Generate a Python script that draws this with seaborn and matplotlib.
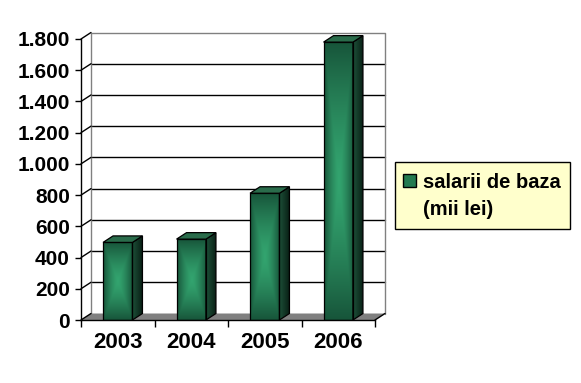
import numpy as np
import pandas as pd
import matplotlib
matplotlib.use("Agg")
import matplotlib.pyplot as plt
import seaborn as sns
from matplotlib.patches import Polygon, Rectangle
from matplotlib.ticker import FuncFormatter
from matplotlib.colors import to_rgb

# Data
years = ["2003", "2004", "2005", "2006"]
salaries = [497, 518, 812, 1780]
y_ticks = [0, 200, 400, 600, 800, 1000, 1200, 1400, 1600, 1800]
series_label = ["salarii de baza", "(mii lei)"]

sns.set_style("white")
plt.rcParams["font.family"] = ["Liberation Sans", "DejaVu Sans"]
plt.rcParams["font.weight"] = "bold"
plt.rcParams["text.color"] = "black"
plt.rcParams["xtick.color"] = "black"
plt.rcParams["ytick.color"] = "black"

W, H = 581, 383
fig = plt.figure(figsize=(W / 100, H / 100), dpi=100)
ax_w, ax_h = 294, 281
ax = fig.add_axes([81 / W, 63 / H, ax_w / W, ax_h / H])

df = pd.DataFrame({"an": years, "salarii": salaries})
sns.barplot(data=df, x="an", y="salarii", width=0.4, color="#2a8a5e",
            ax=ax, zorder=3, saturation=1)

xl0, xl1 = -0.5, 3.5
ymax = y_ticks[-1]
# 3D depth offset (in data units) for the fake perspective
dx = 10 / (ax_w / (xl1 - xl0))
dy = 6.5 / (ax_h / ymax)

# floor
ax.add_patch(Polygon([(xl0, 0), (xl1, 0), (xl1 + dx, dy), (xl0 + dx, dy)],
                     closed=True, facecolor="#808080", edgecolor="none",
                     zorder=1.5, clip_on=False))
# back wall gridlines and border
for v in y_ticks[1:-1]:
    ax.plot([xl0 + dx, xl1 + dx], [v + dy, v + dy], color="black", lw=1,
            zorder=1, clip_on=False)
ax.plot([xl0 + dx, xl0 + dx, xl1 + dx, xl1 + dx],
        [dy, ymax + dy, ymax + dy, dy], color="#808080", lw=1,
        zorder=1, clip_on=False)
# side wall diagonals
for v in y_ticks:
    ax.plot([xl0, xl0 + dx], [v, v + dy], color="black", lw=1,
            zorder=2, clip_on=False)
ax.plot([xl1, xl1 + dx], [0, dy], color="black", lw=1, zorder=2, clip_on=False)

light = np.array(to_rgb("#33a46f"))
dark = np.array(to_rgb("#17553a"))


def front_gradient(nx=60, ny=200):
    u = np.linspace(-1, 1, nx)
    v = np.linspace(-1, 1, ny)
    U, V = np.meshgrid(u, v)
    t = np.maximum(np.abs(U), np.abs(V)) ** 1.4
    return light * (1 - t)[..., None] + dark * t[..., None]


side_a = np.array(to_rgb("#1d5139"))
side_b = np.array(to_rgb("#0a2217"))
s = np.linspace(0, 1, 30)
side_img = (side_a * (1 - s)[:, None] + side_b * s[:, None])[None, :, :]

bars = [p for p in ax.patches if isinstance(p, Rectangle)]
for bar in bars:
    x0 = bar.get_x()
    x1 = x0 + bar.get_width()
    h = bar.get_height()
    bar.set_facecolor("none")
    bar.set_edgecolor("black")
    bar.set_linewidth(0.9)
    bar.set_zorder(5)
    im = ax.imshow(front_gradient(), extent=(x0, x1, 0, h), origin="lower",
                   aspect="auto", interpolation="bilinear", zorder=4)
    im.set_clip_path(bar)
    # side face
    side = Polygon([(x1, 0), (x1 + dx, dy), (x1 + dx, h + dy), (x1, h)],
                   closed=True, facecolor="none", edgecolor="black", lw=0.9,
                   zorder=5, clip_on=False)
    ax.add_patch(side)
    ims = ax.imshow(side_img, extent=(x1, x1 + dx, 0, h + dy), origin="lower",
                    aspect="auto", interpolation="bilinear", zorder=4)
    ims.set_clip_path(side)
    ims.set_clip_box(fig.bbox)
    # top face
    ax.add_patch(Polygon([(x0, h), (x1, h), (x1 + dx, h + dy), (x0 + dx, h + dy)],
                         closed=True, facecolor="#2a6c4b", edgecolor="black",
                         lw=0.9, zorder=5, clip_on=False))

ax.set_xlim(xl0, xl1)
ax.set_ylim(0, ymax)
ax.set_yticks(y_ticks)
ax.yaxis.set_major_formatter(FuncFormatter(lambda v, _: f"{int(v):,}".replace(",", ".")))
ax.set_xticks(range(len(years)))
ax.set_xticklabels(years)
ax.set_xticks(np.arange(xl0, xl1 + 0.01, 1), minor=True)
ax.tick_params(axis="x", which="major", length=0, pad=9, labelsize=16,
               labelcolor="black")
ax.tick_params(axis="x", which="minor", length=5, width=1, color="black",
               direction="out", bottom=True)
ax.tick_params(axis="y", length=4, width=1, color="black", direction="out",
               pad=4, labelsize=15, left=True, labelcolor="black")
for lab in ax.get_xticklabels() + ax.get_yticklabels():
    lab.set_fontweight("bold")
ax.set_xlabel("")
ax.set_ylabel("")
for side_name in ["top", "right"]:
    ax.spines[side_name].set_visible(False)
for side_name in ["left", "bottom"]:
    ax.spines[side_name].set_color("black")
    ax.spines[side_name].set_linewidth(1)
    ax.spines[side_name].set_zorder(6)
ax.patch.set_alpha(0)

# legend box
fig.add_artist(Rectangle((395 / W, 1 - 229 / H), 175 / W, 67 / H,
                         transform=fig.transFigure, facecolor="#ffffcc",
                         edgecolor="black", lw=1))
fig.add_artist(Rectangle((403 / W, 1 - 187 / H), 13 / W, 13 / H,
                         transform=fig.transFigure, facecolor="#237a50",
                         edgecolor="black", lw=1))
fig.text(423 / W, 1 - 188 / H, series_label[0], fontsize=14.5,
         fontweight="bold", va="baseline", ha="left", color="black")
fig.text(423 / W, 1 - 215 / H, series_label[1], fontsize=14.5,
         fontweight="bold", va="baseline", ha="left", color="black")

fig.savefig("out.png", dpi=100, facecolor="white")
